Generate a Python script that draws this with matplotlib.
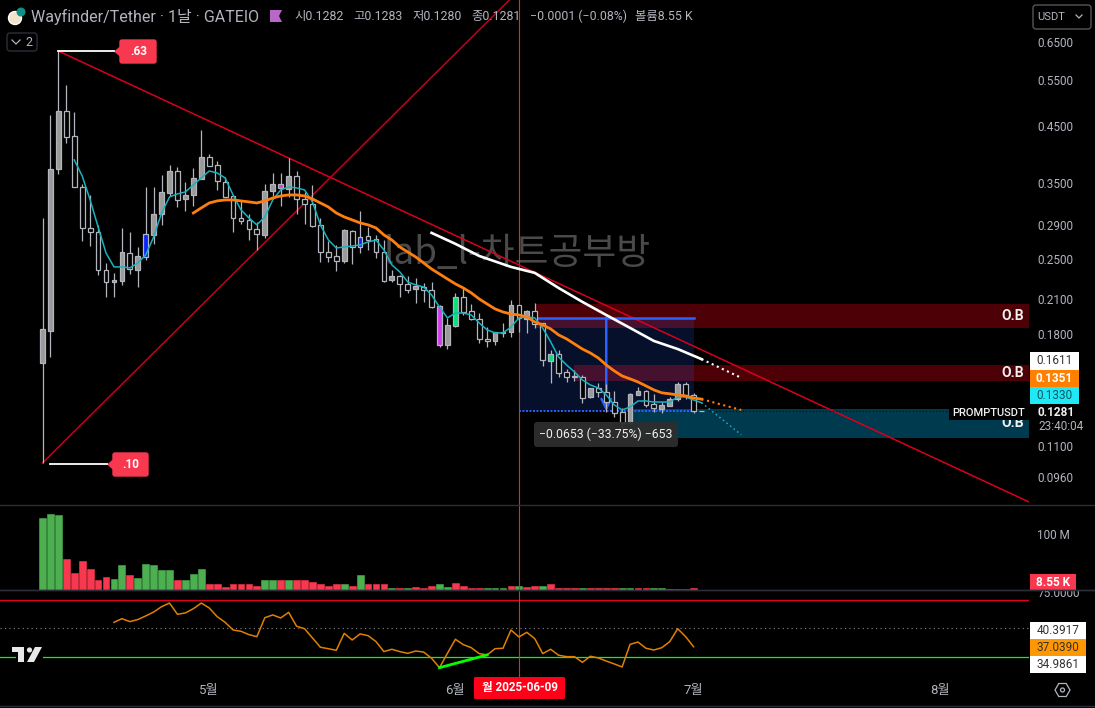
import numpy as np
import matplotlib
matplotlib.use("Agg")
import matplotlib.pyplot as plt
from matplotlib.patches import Rectangle, FancyBboxPatch, Polygon, Circle, RegularPolygon

plt.rcParams['font.family'] = ['Roboto', 'Noto Sans CJK KR', 'DejaVu Sans']

BG = '#000000'
GREY = '#b2b5be'
DIV = '#2a2e39'
RED = '#f7384e'
GREEN = '#4caf50'
BLUE = '#2962ff'

# daily candles, first one is 2025-04-10
opens = [.1584, .1824, .3718, .4799, .4299, .3436, .2869, .2819, .2385, .2262,
         .2272, .2570, .2385, .2525, .2782, .3050, .3346, .3686, .3259, .3317,
         .3559, .3920, .3784, .3512, .3302, .2998, .2972, .2857, .2782, .3376,
         .3421, .3406, .3606, .3259, .3188, .2908, .2581, .2536, .2481, .2831,
         .2638, .2769, .2733, .2581, .2282, .2322, .2243, .2194, .2213, .2184,
         .1714, .1714, .1864, .2118, .1991, .1923, .1761, .1745, .1816, .1816,
         .2044, .1923, .1991, .1889, .1598, .1648, .1523, .1496, .1490, .1364,
         .1419, .1395, .1334, .1277, .1217, .1376, .1401, .1323, .1294, .1311,
         .1352, .1445, .1376, .1282]
highs = [.2998, .4716, .6247, .5380, .4778, .3483, .3317, .2908, .2459, .2354,
         .2869, .2819, .2638, .3436, .3436, .3621, .3784, .3750, .3512, .3734,
         .4414, .3972, .3852, .3590, .3302, .3245, .3050, .2946, .3483, .3653,
         .3653, .3903, .3686, .3361, .3468, .2998, .2709, .2662, .2857, .2844,
         .3091, .2882, .2782, .2721, .2385, .2333, .2322, .2302, .2252, .2262,
         .2044, .1931, .2156, .2213, .2053, .1973, .1855, .1816, .1889, .2090,
         .2044, .2000, .2062, .1889, .1677, .1677, .1543, .1536, .1503, .1419,
         .1451, .1445, .1401, .1300, .1389, .1425, .1407, .1383, .1334, .1364,
         .1457, .1457, .1389, .1283]
lows = [.1020, .1626, .3637, .4168, .3436, .2709, .2650, .2333, .2118, .2118,
        .2233, .2343, .2213, .2492, .2675, .2908, .3302, .3146, .3091, .3160,
        .3559, .3767, .3391, .3288, .2819, .2920, .2721, .2604, .2745, .3302,
        .3160, .3288, .3050, .2920, .2882, .2470, .2470, .2375, .2459, .2448,
        .2570, .2604, .2514, .2262, .2262, .2118, .2156, .2062, .2072, .2018,
        .1699, .1684, .1855, .1956, .1914, .1730, .1699, .1714, .1777, .1777,
        .1816, .1808, .1848, .1564, .1451, .1490, .1457, .1464, .1328, .1358,
        .1364, .1277, .1250, .1170, .1211, .1376, .1305, .1277, .1271, .1311,
        .1340, .1352, .1271, .1280]
closes = [.1840, .3718, .4799, .4280, .3436, .2869, .2819, .2385, .2262, .2282,
          .2581, .2395, .2536, .2794, .3050, .3361, .3686, .3245, .3317, .3575,
          .3920, .3767, .3527, .3288, .2998, .2959, .2857, .2794, .3376, .3483,
          .3483, .3606, .3259, .3188, .2895, .2581, .2525, .2481, .2844, .2638,
          .2757, .2721, .2581, .2272, .2322, .2243, .2184, .2223, .2184, .2026,
          .2035, .1872, .2118, .1982, .1923, .1761, .1745, .1816, .1808, .2044,
          .1931, .1991, .1880, .1605, .1648, .1516, .1490, .1490, .1358, .1419,
          .1395, .1334, .1271, .1217, .1383, .1401, .1317, .1300, .1317, .1352,
          .1445, .1376, .1281, .1281]
blue_days = [13, 40]
magenta_days = [30, 50]
green_days = [52, 64]

fast_start = 4
fast_ma = [.3869, .3606, .3245, .2882, .2570, .2417, .2417, .2406, .2459, .2548,
           .2757, .3064, .3288, .3332, .3361, .3468, .3575, .3686, .3653, .3575,
           .3317, .3105, .2998, .2908, .3011, .3245, .3391, .3436, .3421, .3391,
           .3217, .2908, .2721, .2627, .2638, .2650, .2662, .2697, .2721, .2604,
           .2438, .2364, .2262, .2233, .2213, .2137, .2026, .1931, .1973, .1973,
           .1956, .1889, .1832, .1808, .1808, .1855, .1931, .1940, .1931, .1848,
           .1738, .1626, .1570, .1523, .1470, .1438, .1419, .1376, .1317, .1288,
           .1305, .1340, .1340, .1334, .1334, .1334, .1364, .1364, .1346, .1330]
slow_start = 19
slow_ma = [.3064, .3133, .3202, .3231, .3245, .3245, .3231, .3217, .3202, .3231,
           .3273, .3302, .3317, .3317, .3302, .3259, .3202, .3146, .3064, .3011,
           .2972, .2933, .2908, .2869, .2782, .2721, .2638, .2581, .2525, .2459,
           .2395, .2343, .2292, .2243, .2203, .2156, .2099, .2053, .2009, .1982,
           .1965, .1956, .1940, .1897, .1872, .1840, .1792, .1761, .1722, .1684,
           .1655, .1619, .1570, .1530, .1496, .1477, .1457, .1432, .1407, .1389,
           .1383, .1376, .1370, .1358, .1351]
long_days = [49, 52, 55, 59, 62, 65, 68, 71, 74, 77, 80, 83]
long_ma = [.2807, .2675, .2536, .2417, .2354, .2203, .2072, .1956, .1848, .1745, .1684, .1611]

proj_days = [83, 88]
long_proj = [.1611, .1484]
slow_proj = [.1351, .1288]
fast_proj = [.1330, .1155]

down_trend_days = [2, 124.2]
down_trend = [.6247, .0860]
up_trend_days = [0, 58.8]
up_trend = [.1020, .7819]

ob_zones = [(62, .1848, .2053, '#4d0005'), (67, .1464, .1570, '#4d0005'), (74, .1139, .1294, '#003a4f')]
measure_days = [60, 82]
measure_prices = [.1281, .1934]

price_ticks = [.65, .55, .45, .35, .29, .25, .21, .18, .11, .096]
price_lim = [.0848, .7819]

volumes = [129, 136, 134, 56, 31, 51, 38, 18, 24, 20, 45, 26, 22, 47, 45, 36, 35, 18, 17, 29,
           38, 11, 11, 6, 11, 10, 11, 8, 17, 18, 18, 17, 17, 18, 15, 11, 8, 10, 10, 8,
           27, 10, 11, 11, 3.5, 3.5, 3.5, 6, 3.5, 8, 11, 6, 13, 8, 3.5, 3.5, 3.5, 3.5, 3.5, 8,
           8, 6, 8, 8, 10, 3.5, 3.5, 3.5, 3.5, 3.5, 3.5, 3.5, 3.5, 3.5, 3.5, 3.5, 3.5, 3.5, 3.5,
           1.8, 1.8, 1.8, 3.5, 0.00855]
vol_sides = "GGGRRRRRRGGRGGGGGRGGGRRRRRRRGGRGRRRRRRGRGRRRGR" \
            "GRRRGGRRRRGGGRGRRGRRRRGRRRRGGRRGGGRRR"

rsi_start = 9
rsi = [53.9, 56.4, 54.4, 55.8, 58.3, 61.0, 64.7, 67.2, 59.4, 60.4, 63.3, 67.2, 63.8, 57.8, 53.9,
       48.6, 47.7, 45.4, 44.0, 57.1, 59.0, 56.9, 60.8, 51.2, 49.5, 43.1, 36.7, 35.7, 34.6, 46.3,
       41.7, 45.9, 44.7, 40.6, 33.7, 35.3, 33.7, 32.5, 34.1, 33.4, 29.1, 22.6, 32.5, 42.2, 38.5,
       36.4, 32.3, 31.4, 35.7, 36.0, 48.6, 43.8, 47.0, 42.6, 32.3, 35.3, 31.2, 30.2, 30.2, 26.3,
       30.5, 29.3, 27.2, 25.2, 23.1, 38.7, 40.3, 36.0, 34.8, 36.4, 40.6, 49.5, 44.0, 37.04]
rsi_div_days = [50, 56]
rsi_div = [22.6, 31.4]
rsi_levels = [69.3, 50, 30]

month_days = [21, 52, 82, 113]
month_labels = ['5월', '6월', '7월', '8월']
cross_day = 60

legend_items = ['시0.1282', '고0.1283', '저0.1280', '종0.1281', '−0.0001 (−0.08%)', '볼륨8.55 K']
legend_x = [294, 353, 412, 471, 530, 635]

W, H = 1095, 708
XLIM = (-42.5 / 7.94, (1029 - 42.5) / 7.94)


def add_panel(top, bottom):
    ax = fig.add_axes([0, 1 - bottom / H, 1029 / W, (bottom - top) / H], facecolor=BG)
    ax.set_xlim(*XLIM)
    for s in ax.spines.values():
        s.set_visible(False)
    ax.yaxis.tick_right()
    ax.tick_params(axis='y', length=0, labelcolor=GREY, labelsize=8.5, pad=6)
    ax.tick_params(axis='x', length=0, labelbottom=False)
    ax.minorticks_off()
    return ax


fig = plt.figure(figsize=(W / 100, H / 100), dpi=100, facecolor=BG)

# price pane
ax = add_panel(0, 505)
ax.set_yscale('log')
ax.set_ylim(*price_lim)
ax.set_yticks(price_ticks)
ax.set_yticklabels(['%.4f' % t for t in price_ticks])
ax.minorticks_off()
ax.tick_params(axis='y', which='both', length=0)

ax.text(43, .256, 'lab_l-차트공부방', color='#4a4a4a', fontsize=26.5, va='center', ha='left',
        family=['Noto Sans CJK KR', 'DejaVu Sans'], zorder=1)

for start, lo, hi, col in ob_zones:
    ax.fill_between([start, XLIM[1]], lo, hi, color=col, lw=0, zorder=1.1)
    ax.text(123.6, np.sqrt(lo * hi), 'O.B', color='#f0f0f0', fontsize=10, fontweight='bold',
            ha='right', va='center', zorder=2)
ax.fill_between(measure_days, measure_prices[0], measure_prices[1], color=BLUE, alpha=0.17, lw=0, zorder=1.2)

ax.plot(down_trend_days, down_trend, color='#d8001c', lw=1.1, zorder=2.5)
ax.plot(up_trend_days, up_trend, color='#c4001e', lw=1.1, zorder=2.5)
ax.axvline(cross_day, color='#ff1a2e', lw=0.8, zorder=2.2)

ax.plot([62, measure_days[1]], [measure_prices[1]] * 2, color=BLUE, lw=1.8, zorder=2.6)
ax.plot(measure_days, [measure_prices[0]] * 2, color=BLUE, lw=1.4, ls=(0, (1, 0.8)), zorder=2.6)
ax.annotate('', xy=(71, measure_prices[0]), xytext=(71, measure_prices[1]),
            arrowprops=dict(arrowstyle='->', color=BLUE, lw=1.8, mutation_scale=17, shrinkA=0, shrinkB=0),
            zorder=2.6)
ax.plot([84, XLIM[1]], [closes[-1]] * 2, color='#0a0a0a', lw=0.8, ls=(0, (1, 2)), zorder=2.7)

# candles
for i in range(len(opens)):
    o, c = opens[i], closes[i]
    face = BG if c < o else '#9a9a9a'
    if i in blue_days:
        face = '#0a22ff'
    elif i in magenta_days:
        face = '#d23cf0'
    elif i in green_days:
        face = '#00e676'
    ax.vlines(i, lows[i], highs[i], color=GREY, lw=0.9, zorder=3)
    ax.bar(i, abs(c - o), bottom=min(o, c), width=0.6, facecolor=face, edgecolor=GREY, lw=0.9, zorder=3.1)

ax.plot(np.arange(fast_start, fast_start + len(fast_ma)), fast_ma, color='#17b3bf', lw=1.1, zorder=4)
ax.plot(np.arange(slow_start, slow_start + len(slow_ma)), slow_ma, color='#ff7f0e', lw=2, zorder=4.1)
ax.plot(long_days, long_ma, color='#ffffff', lw=1.9, zorder=4.2)
ax.plot(proj_days, fast_proj, color='#17b3bf', lw=1.1, ls=(0, (1, 2)), zorder=4)
ax.plot(proj_days, slow_proj, color='#ff7f0e', lw=1.5, ls=(0, (1, 1.7)), zorder=4.1)
ax.plot(proj_days, long_proj, color='#ffffff', lw=1.5, ls=(0, (1, 1.7)), zorder=4.2)

# volume pane
vax = add_panel(505, 590)
vax.set_ylim(0, 151.8)
vax.set_yticks([100])
vax.set_yticklabels(['100 M'])
vax.bar(np.arange(len(volumes)), volumes, width=0.86, lw=0.4,
        color=[GREEN if s == 'G' else RED for s in vol_sides],
        edgecolor=[GREEN if s == 'G' else RED for s in vol_sides])
vax.axvline(cross_day, color='#ff1a2e', lw=0.8, zorder=2.2)

# rsi pane
rax = add_panel(590, 680)
rax.set_ylim(14.1, 76.2)
rax.set_yticks([75])
rax.set_yticklabels(['75.0000'])
rax.axhline(rsi_levels[0], color='#e00020', lw=1)
rax.axhline(rsi_levels[1], color='#8a8a8a', lw=0.8, ls=(0, (1, 3)))
rax.axhline(rsi_levels[2], color='#00ff00', lw=0.9)
rax.axvline(cross_day, color='#ff1a2e', lw=0.8)
rax.plot(np.arange(rsi_start, rsi_start + len(rsi)), rsi, color='#e08000', lw=1.1, zorder=3)
rax.plot(rsi_div_days, rsi_div, color='#00ff00', lw=2, zorder=4)
rax.set_xticks(month_days)
rax.set_xticklabels(month_labels)
rax.tick_params(axis='x', labelbottom=True, labelcolor=GREY, labelsize=9.5, pad=3)

# pixel overlay for the chart furniture
ov = fig.add_axes([0, 0, 1, 1], facecolor='none')
ov.set_xlim(0, W)
ov.set_ylim(H, 0)
ov.axis('off')


def tag(x0, y0, x1, y1, face, text, color='white', bold=False, size=8.5, ha='center', tx=None):
    ov.add_patch(Rectangle((x0, y0), x1 - x0, y1 - y0, facecolor=face, lw=0))
    ov.text((x0 + x1) / 2 if tx is None else tx, (y0 + y1) / 2, text, color=color, fontsize=size, ha=ha,
            va='center', fontweight='bold' if bold else 'normal')


def callout(x0, y0, x1, y1, text):
    ym = (y0 + y1) / 2
    ov.add_patch(FancyBboxPatch((x0 + 6, y0 + 1), x1 - x0 - 7, y1 - y0 - 2, boxstyle='round,pad=0,rounding_size=2',
                                facecolor=RED, edgecolor=RED, lw=1))
    ov.add_patch(Polygon([(x0, ym), (x0 + 7, ym - 6), (x0 + 7, ym + 6)], facecolor=RED, lw=0))
    ov.text((x0 + 6 + x1) / 2, ym, text, color='white', fontsize=8.5, fontweight='bold', ha='center', va='center')


for y in [505, 590, 706]:
    ov.plot([0, W], [y, y], color=DIV, lw=1)

ov.plot([58, 114], [51, 51], color='white', lw=1.3)
callout(114, 39, 157, 64, '.63')
ov.plot([50, 107], [464, 464], color='white', lw=1.3)
callout(107, 452, 149, 477, '.10')

# hover readout
ov.add_patch(FancyBboxPatch((536, 424), 140, 21, boxstyle='round,pad=2,rounding_size=3',
                            facecolor='#2e2e2e', edgecolor='none', alpha=0.95))
ov.text(606, 434.5, '−0.0653 (−33.75%) −653', color='#f0f0f0', fontsize=8.8, ha='center', va='center')

# header
ov.add_patch(Circle((15, 18), 6.5, facecolor='#f3e3c8', edgecolor='white', lw=1))
ov.add_patch(Circle((21, 12), 4.5, facecolor='#0f8f86', lw=0))
ov.text(31, 16.5, 'Wayfinder/Tether · 1날 · GATEIO', color=GREY, fontsize=11.5, va='center')
ov.add_patch(Polygon([(270, 10), (282, 10), (279, 16), (282, 22), (270, 22)], facecolor='#b868c8', lw=0))
for item, x in zip(legend_items, legend_x):
    ov.text(x, 16.5, item, color=GREY, fontsize=8.9, va='center')

ov.add_patch(FancyBboxPatch((7, 33), 30, 18, boxstyle='round,pad=0,rounding_size=3', facecolor=BG, edgecolor=DIV, lw=1))
ov.plot([12, 16, 20], [40, 44, 40], color=GREY, lw=0.9)
ov.text(29, 42, '2', color=GREY, fontsize=9, ha='center', va='center')

ov.add_patch(FancyBboxPatch((1033, 5), 58, 24, boxstyle='round,pad=0,rounding_size=3', facecolor=BG, edgecolor='#555555', lw=1))
ov.text(1037, 17, 'USDT', color=GREY, fontsize=8, va='center')
ov.plot([1076, 1079, 1082], [15, 18, 15], color=GREY, lw=0.9)

# right hand labels
tag(1030, 352, 1079, 370, 'white', '0.1611', color='#333333')
tag(1030, 370, 1079, 387, '#ff8000', '0.1351', bold=True)
tag(1030, 387, 1079, 404, '#20e8f5', '0.1330', color='#0a5a60')
ov.add_patch(Rectangle((949, 405), 80, 15, facecolor=BG, lw=0))
ov.text(1025, 412.5, 'PROMPTUSDT', color='#f0f0f0', fontsize=8, ha='right', va='center', fontweight='medium')
ov.text(1038, 412.5, '0.1281', color='#f0f0f0', fontsize=8.5, fontweight='bold', va='center')
ov.text(1038, 427, '23:40:04', color=GREY, fontsize=8.5, va='center')

ov.add_patch(Rectangle((1030, 576), 65, 14, facecolor=BG, lw=0))
ov.plot([0, W], [590, 590], color=DIV, lw=1)
tag(1030, 574, 1076, 590, RED, '8.55 K', bold=True)
tag(1030, 622, 1086, 639, 'white', '40.3917', color='#333333')
tag(1030, 639, 1086, 656, '#ff9800', '37.0390', color='#333333')
tag(1030, 656, 1086, 673, 'white', '34.9861', color='#333333')

# date tag on the crosshair
ov.add_patch(FancyBboxPatch((474, 677), 91, 22, boxstyle='round,pad=0,rounding_size=1.5', facecolor='#ff0018', lw=0))
ov.text(519.5, 688, '월 2025-06-09', color='white', fontsize=8.4, fontweight='bold', ha='center', va='center')

ov.add_patch(RegularPolygon((1062.5, 690), 6, radius=7.5, orientation=np.pi / 2, facecolor='none', edgecolor=GREY, lw=0.9))
ov.add_patch(Circle((1062.5, 690), 2, facecolor='none', edgecolor=GREY, lw=0.9))

# TradingView mark
ov.add_patch(Rectangle((16, 646), 27, 18, facecolor=BG, lw=0))
ov.add_patch(Polygon([(12, 647), (24, 647), (24, 662), (18, 662), (18, 652), (12, 652)], facecolor='#e8e8e8', lw=0))
ov.add_patch(Circle((29.5, 650), 2.6, facecolor='#e8e8e8', lw=0))
ov.add_patch(Polygon([(35, 647), (42, 647), (34, 662), (27, 662)], facecolor='#e8e8e8', lw=0))

fig.savefig('out.png', dpi=100, facecolor=BG)
